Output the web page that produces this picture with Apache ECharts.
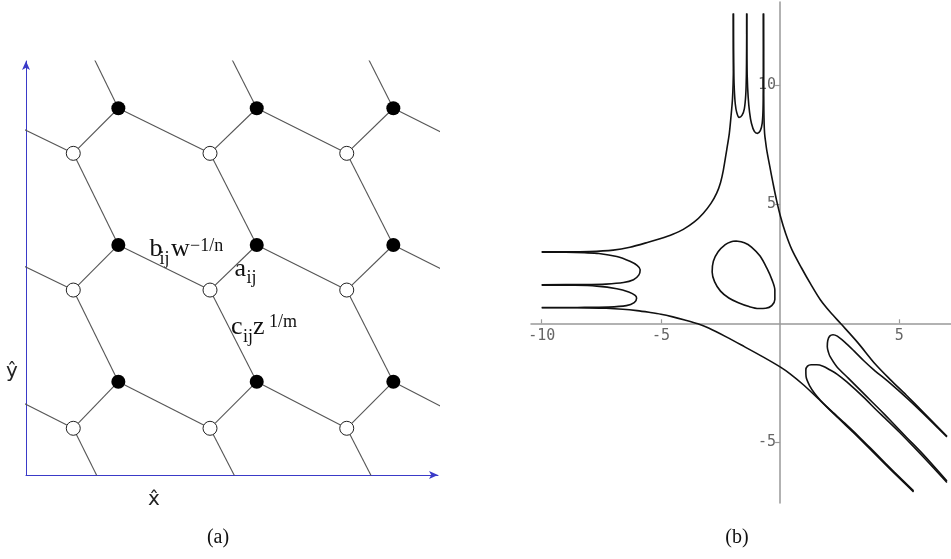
<!DOCTYPE html>
<html><head><meta charset="utf-8">
<script src="https://cdn.jsdelivr.net/npm/echarts@6/dist/echarts.min.js"></script>
<style>html,body{margin:0;padding:0;background:#fff}#c{width:951px;height:559px}</style>
</head><body><div id="c"></div>
<script>
// ---------- panel (a): hexagonal lattice, lattice units ----------
const blackCols = [-0.33, 0.674, 1.684, 2.681];
const blackRows = [-0.32, 0.681, 1.679, 2.677];
const whiteCols = [0.345, 1.343, 2.341, 3.34];
const whiteRows = [0.341, 1.350, 2.348, 3.35];

// ---------- panel (b): curve branches [x, y] ----------
const upperLeftBranch = [[-10.0,3.00],[-9.0,3.00],[-8.0,3.01],[-7.0,3.07],[-6.3,3.19],[-5.5,3.41],[-5.04,3.55],[-4.5,3.74],[-4.06,3.94],[-3.6,4.25],[-3.22,4.62],[-2.9,5.03],[-2.66,5.46],[-2.5,5.9],[-2.38,6.43],[-2.24,7.27],[-2.13,7.97],[-2.06,8.67],[-2.0,9.37],[-1.97,10.07],[-1.96,10.77],[-1.96,13.0]];
const topLoop1 = [[-1.96,13.0],[-1.955,11.5],[-1.94,10.4],[-1.92,9.79],[-1.88,9.2],[-1.82,8.85],[-1.72,8.64],[-1.6,8.72],[-1.5,9.0],[-1.44,9.6],[-1.415,10.4],[-1.405,11.5],[-1.40,13.0]];
const topLoop2 = [[-1.40,13.0],[-1.395,11.5],[-1.38,10.4],[-1.34,9.5],[-1.28,8.85],[-1.2,8.38],[-1.08,8.05],[-0.95,7.97],[-0.83,8.08],[-0.75,8.4],[-0.715,9.0],[-0.705,10.0],[-0.70,11.5],[-0.70,13.0]];
const rightBranch = [[-0.695,13.0],[-0.69,11.0],[-0.685,9.5],[-0.675,8.6],[-0.65,7.97],[-0.6,7.55],[-0.56,7.27],[-0.43,6.57],[-0.295,5.87],[-0.15,5.17],[0.02,4.47],[0.23,3.78],[0.5,3.08],[0.9,2.32],[1.28,1.65],[1.68,1.0],[2.12,0.45],[2.55,-0.02],[3.25,-0.8],[4.0,-1.72],[4.6,-2.34],[5.3,-3.02],[6.0,-3.72],[7.0,-4.74]];
const loopA = [[7.0,-4.77],[6.0,-3.78],[5.3,-3.12],[4.6,-2.5],[3.92,-1.94],[3.5,-1.56],[3.1,-1.16],[2.7,-0.78],[2.4,-0.54],[2.22,-0.48],[2.08,-0.54],[2.0,-0.72],[1.98,-0.98],[2.03,-1.22],[2.1,-1.4],[2.38,-1.82],[2.87,-2.31],[3.5,-2.94],[4.2,-3.64],[4.62,-4.07],[5.3,-4.78],[6.0,-5.5],[7.0,-6.62]];
const loopB = [[7.0,-6.68],[6.0,-5.6],[5.0,-4.56],[4.4,-3.98],[4.06,-3.66],[3.5,-3.1],[2.8,-2.46],[2.4,-2.14],[2.1,-1.96],[1.8,-1.8],[1.54,-1.74],[1.3,-1.74],[1.15,-1.8],[1.08,-1.96],[1.09,-2.24],[1.26,-2.66],[1.45,-2.95],[1.68,-3.22],[2.0,-3.54],[2.24,-3.76],[2.7,-4.18],[3.3,-4.75],[4.0,-5.45],[4.8,-6.25],[5.6,-7.03]];
const lowerBranch = [[-10,0.65],[-9,0.65],[-8,0.645],[-7.3,0.63],[-6.6,0.59],[-6.0,0.53],[-5.5,0.46],[-5.0,0.38],[-4.5,0.27],[-4.0,0.14],[-3.45,-0.02],[-3.0,-0.2],[-2.24,-0.58],[-1.5,-0.98],[-0.7,-1.42],[0.0,-1.83],[0.42,-2.12],[1.0,-2.6],[1.7,-3.26],[2.4,-3.94],[3.2,-4.7],[4.0,-5.5],[4.8,-6.3],[5.6,-7.07]];
const leftLoop1 = [[-10,2.985],[-9,2.98],[-8.2,2.96],[-7.6,2.93],[-6.85,2.8],[-6.3,2.6],[-6.0,2.43],[-5.87,2.25],[-5.93,2.02],[-6.15,1.83],[-6.57,1.71],[-7.3,1.645],[-8.2,1.625],[-10,1.62]];
const leftLoop2 = [[-10,1.60],[-8.6,1.595],[-7.69,1.56],[-6.85,1.45],[-6.35,1.31],[-6.08,1.17],[-6.02,1.05],[-6.12,0.87],[-6.45,0.74],[-7.2,0.68],[-8.5,0.665],[-10,0.66]];
const oval = [[-1.85,3.45],[-1.5,3.38],[-1.2,3.2],[-0.84,2.82],[-0.55,2.3],[-0.33,1.8],[-0.22,1.4],[-0.22,1.0],[-0.35,0.74],[-0.6,0.63],[-0.9,0.62],[-1.3,0.7],[-1.75,0.86],[-2.15,1.06],[-2.5,1.35],[-2.75,1.75],[-2.85,2.15],[-2.8,2.6],[-2.6,3.0],[-2.3,3.3],[-2.05,3.42],[-1.85,3.45]];

const xTickValues = [-10, -5, 5];
const yTickValues = [-5, 5, 10];

// ---------- build lattice ----------
const blackNodes = [], whiteNodes = [], edges = [];
blackCols.forEach(x => blackRows.forEach(y => blackNodes.push([x, y])));
whiteCols.forEach(x => whiteRows.forEach(y => whiteNodes.push([x, y])));
for (let i = 0; i < whiteCols.length; i++) {
  for (let j = 0; j < whiteRows.length; j++) {
    const w = [whiteCols[i], whiteRows[j]];
    const nb = [[i + 1, j + 1], [i, j + 1], [i + 1, j]];
    nb.forEach(([bi, bj]) => {
      if (bi < blackCols.length && bj < blackRows.length) {
        edges.push({ coords: [w, [blackCols[bi], blackRows[bj]]] });
      }
    });
  }
}

const branches = [upperLeftBranch, topLoop1, topLoop2, rightBranch, loopA, loopB, lowerBranch, leftLoop1, leftLoop2, oval];

// right panel geometry
const gb = { left: 531, top: 2, width: 420, height: 501 };
const xMinB = -10.45, xMaxB = 7.17, yMinB = -7.54, yMaxB = 13.48;
// place axes through the origin (like onZero, but with labels following the axis)
const xAxisOffset = -(gb.height * (0 - yMinB) / (yMaxB - yMinB));
const yAxisOffset = -(gb.width * (0 - xMinB) / (xMaxB - xMinB));

const serif = '"Liberation Serif", "DejaVu Serif", serif';
const annotations = [
  // text, x, y, size
  ['b', 149.5, 249.5, 26], ['ij', 159.5, 259, 18], ['w', 171, 249.5, 26], ['\u22121/n', 190, 246, 18],
  ['a', 234.5, 269.5, 26], ['ij', 246.5, 278, 18],
  ['c', 231, 327.5, 26], ['ij', 243, 337, 18], ['z', 253, 327.5, 26], ['1/m', 269, 322, 18],
  ['(a)', 218, 538, 20], ['(b)', 737, 538, 20]
];

const blue = '#3a3ac8';
const monoLabel = { fontFamily: '"DejaVu Sans Mono", monospace', fontSize: 15, color: '#666', formatter: v => String(v) };
const chart = echarts.init(document.getElementById('c'), null, { renderer: 'canvas' });
chart.setOption({
  animation: false,
  backgroundColor: '#fff',
  grid: [
    { left: 26, top: 61, width: 412, height: 414 },
    gb
  ],
  xAxis: [
    { gridIndex: 0, type: 'value', min: 0, max: 3.007,
      axisLine: { show: true, onZero: false, symbol: ['none', 'arrow'], symbolSize: [6, 9], lineStyle: { color: blue, width: 1 } },
      axisTick: { show: false }, axisLabel: { show: false }, splitLine: { show: false } },
    { gridIndex: 1, type: 'value', min: xMinB, max: xMaxB, position: 'bottom', offset: xAxisOffset,
      axisLine: { show: true, onZero: false, lineStyle: { color: '#999', width: 1.5 } },
      axisTick: { show: true, inside: true, length: 4, customValues: xTickValues, lineStyle: { color: '#999', width: 1.2 } },
      axisLabel: Object.assign({ show: true, customValues: xTickValues, margin: 5 }, monoLabel),
      splitLine: { show: false } }
  ],
  yAxis: [
    { gridIndex: 0, type: 'value', min: 0, max: 3.022,
      axisLine: { show: true, onZero: false, symbol: ['none', 'arrow'], symbolSize: [6, 9], lineStyle: { color: blue, width: 1 } },
      axisTick: { show: false }, axisLabel: { show: false }, splitLine: { show: false } },
    { gridIndex: 1, type: 'value', min: yMinB, max: yMaxB, position: 'left', offset: yAxisOffset,
      axisLine: { show: true, onZero: false, lineStyle: { color: '#999', width: 1.5 } },
      axisTick: { show: true, length: 5, customValues: yTickValues, lineStyle: { color: '#999', width: 1.2 } },
      axisLabel: Object.assign({ show: true, customValues: yTickValues, margin: 4 }, monoLabel),
      splitLine: { show: false } }
  ],
  series: [
    { type: 'lines', coordinateSystem: 'cartesian2d', xAxisIndex: 0, yAxisIndex: 0, clip: true, silent: true,
      data: edges, lineStyle: { color: '#555', width: 1.1, opacity: 1, curveness: 0 } },
    { type: 'scatter', xAxisIndex: 0, yAxisIndex: 0, clip: true, silent: true, data: blackNodes,
      symbolSize: 14, itemStyle: { color: '#000', opacity: 1 } },
    { type: 'scatter', xAxisIndex: 0, yAxisIndex: 0, clip: true, silent: true, data: whiteNodes,
      symbolSize: 14, itemStyle: { color: '#fff', borderColor: '#222', borderWidth: 1, opacity: 1 } }
  ].concat(branches.map(b => ({
    type: 'line', xAxisIndex: 1, yAxisIndex: 1, data: b, showSymbol: false, smooth: 0.3, clip: true, silent: true,
    lineStyle: { color: '#111', width: 1.6 }
  }))),
  graphic: annotations.map(([t, x, y, s]) => ({
    type: 'text', x: x, y: y, silent: true,
    style: { text: t, fontSize: s, fontFamily: serif, fill: '#111', align: t[0] === '(' ? 'center' : 'left', verticalAlign: 'middle',
             textAlign: t[0] === '(' ? 'center' : 'left', textVerticalAlign: 'middle' }
  })).concat([
    { type: 'text', x: 12, y: 372, silent: true, style: { text: '\u0177', fontSize: 20, fontFamily: '"DejaVu Sans", sans-serif', fill: '#222', align: 'center', verticalAlign: 'middle', textAlign: 'center', textVerticalAlign: 'middle' } },
    { type: 'text', x: 154, y: 500, silent: true, style: { text: 'x\u0302', fontSize: 20, fontFamily: '"DejaVu Sans", sans-serif', fill: '#222', align: 'center', verticalAlign: 'middle', textAlign: 'center', textVerticalAlign: 'middle' } }
  ])
});
</script></body></html>
